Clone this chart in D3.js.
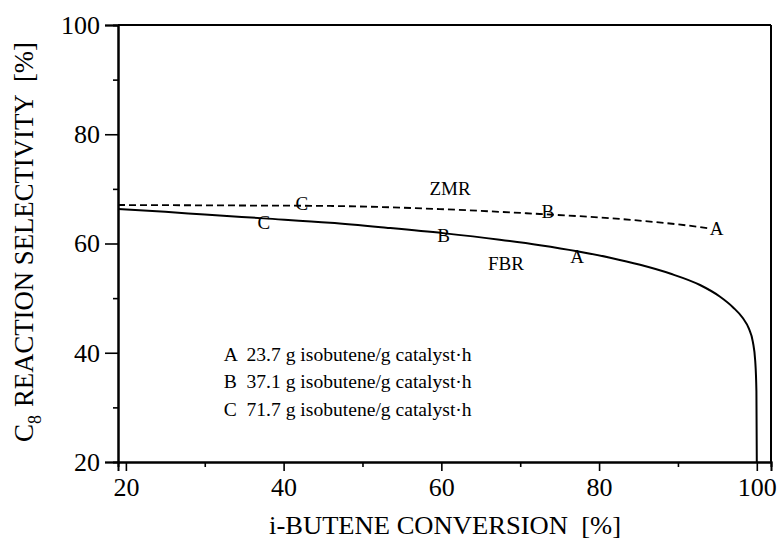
<!DOCTYPE html>
<html><head><meta charset="utf-8">
<script src="https://cdn.jsdelivr.net/npm/d3@7"></script>
<style>body{margin:0;background:#fff}text{font-family:"Liberation Serif","Times New Roman",serif;fill:#000}</style>
</head><body><svg id="c" width="777" height="545"></svg>
<script>
const xTicks = [20, 40, 60, 80, 100];
const yTicks = [20, 40, 60, 80, 100];
const xMinor = [30, 50, 70, 90];
const yMinor = [30, 50, 70, 90];
// FBR (solid) curve
const fbrX = [19, 25, 30, 37.5, 45.9, 53, 60.2, 67.4, 72.5, 77.2, 81.4, 85.2, 89.0, 92.8, 95.3, 97.0, 98.2, 99.0, 99.5, 99.8, 99.95, 100];
const fbrY = [66.3, 65.8, 65.3, 64.6, 63.8, 62.9, 61.9, 60.7, 59.7, 58.6, 57.4, 56.1, 54.5, 52.4, 50.3, 48.3, 46.4, 44.4, 42.0, 38.5, 33.0, 20];
// ZMR (dashed) curve
const zmrX = [19, 35.7, 45.9, 59.8, 72.5, 82.6, 92.8, 93.8];
const zmrY = [67.05, 66.95, 66.87, 66.3, 65.4, 64.5, 63.0, 62.8];
// point labels
const ptText = ["C", "B", "A", "C", "B", "A"];
const ptX = [42.3, 73.5, 94.9, 37.5, 60.3, 77.2];
const ptY = [67.4, 65.8, 62.8, 63.9, 61.4, 57.7];
const curveNames = ["ZMR", "FBR"];
const curveNameX = [61.1, 68.2];
const curveNameY = [70.0, 56.4];
const legendLines = ["A  23.7 g isobutene/g catalyst\u00b7h", "B  37.1 g isobutene/g catalyst\u00b7h", "C  71.7 g isobutene/g catalyst\u00b7h"];
const legendX = 32.4;
const legendY = [39.6, 34.6, 29.6];

const svg = d3.select("#c");
const x = d3.scaleLinear().domain([19, 101.8]).range([118, 771]);
const y = d3.scaleLinear().domain([20, 100]).range([462, 25]);

// frame
svg.append("line").attr("x1",118).attr("x2",771).attr("y1",25).attr("y2",25).attr("stroke","#000").attr("stroke-width",2);
svg.append("line").attr("x1",771).attr("x2",771).attr("y1",25).attr("y2",462).attr("stroke","#000").attr("stroke-width",2);

const xa = svg.append("g").attr("transform","translate(0,462)")
  .call(d3.axisBottom(x).tickValues(xTicks).tickSize(9).tickPadding(4).tickFormat(d3.format("d")));
svg.append("g").attr("transform","translate(0,462)")
  .call(d3.axisBottom(x).tickValues(xMinor).tickSize(5).tickFormat(""));
const ya = svg.append("g").attr("transform","translate(118,0)")
  .call(d3.axisLeft(y).tickValues(yTicks).tickSize(13).tickPadding(5).tickFormat(d3.format("d")));
svg.append("g").attr("transform","translate(118,0)")
  .call(d3.axisLeft(y).tickValues(yMinor).tickSize(5).tickFormat(""));
svg.selectAll("g").attr("font-family","Liberation Serif");
svg.selectAll(".domain").attr("stroke","#000").attr("stroke-width",2);
svg.selectAll(".tick line").attr("stroke","#000").attr("stroke-width",1.6);
svg.selectAll(".tick text").attr("font-family","Liberation Serif").style("font-size","26px").attr("fill","#000");
xa.selectAll(".tick text").attr("dy","0.8em");

const line = d3.line().x(d=>x(d[0])).y(d=>y(d[1])).curve(d3.curveMonotoneX);
svg.append("path").datum(fbrX.map((v,i)=>[v,fbrY[i]])).attr("d",line)
  .attr("fill","none").attr("stroke","#000").attr("stroke-width",2);
svg.append("path").datum(zmrX.map((v,i)=>[v,zmrY[i]])).attr("d",line)
  .attr("fill","none").attr("stroke","#000").attr("stroke-width",1.8).attr("stroke-dasharray","7,4");

// point labels
svg.selectAll(".pt").data(ptText).enter().append("text")
  .attr("x",(d,i)=>x(ptX[i])).attr("y",(d,i)=>y(ptY[i]))
  .attr("text-anchor","middle").attr("dominant-baseline","central")
  .style("font-size","19px").text(d=>d);
svg.selectAll(".cn").data(curveNames).enter().append("text")
  .attr("x",(d,i)=>x(curveNameX[i])).attr("y",(d,i)=>y(curveNameY[i]))
  .attr("text-anchor","middle").attr("dominant-baseline","central")
  .style("font-size","19px").text(d=>d);
svg.selectAll(".lg").data(legendLines).enter().append("text")
  .attr("x",x(legendX)).attr("y",(d,i)=>y(legendY[i]))
  .attr("dominant-baseline","central")
  .attr("textLength",248).attr("lengthAdjust","spacingAndGlyphs")
  .style("font-size","18px").style("white-space","pre").text(d=>d);

// axis titles
svg.append("text").attr("x",269).attr("y",525).attr("dominant-baseline","central")
  .attr("textLength",352).attr("lengthAdjust","spacingAndGlyphs")
  .style("font-size","26px").style("white-space","pre").text("i-BUTENE CONVERSION  [%]");
const yt = svg.append("g").attr("transform","translate(33,442) rotate(-90)");
yt.append("text").attr("x",0).attr("y",0)
  .style("font-size","27px").text("C");
yt.append("text").attr("x",18).attr("y",8)
  .style("font-size","18px").text("8");
yt.append("text").attr("x",35).attr("y",0)
  .attr("textLength",365).attr("lengthAdjust","spacingAndGlyphs")
  .style("font-size","27px").style("white-space","pre").text("REACTION SELECTIVITY  [%]");
</script></body></html>
